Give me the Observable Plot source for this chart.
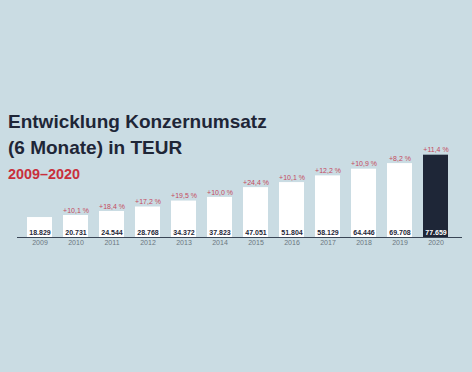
<!DOCTYPE html>
<html>
<head>
<meta charset="utf-8">
<script src="https://cdn.jsdelivr.net/npm/d3@7"></script>
<script src="https://cdn.jsdelivr.net/npm/@observablehq/plot@0.6"></script>
<style>
  html, body { margin: 0; padding: 0; background: #cadce3; }
  #wrap { position: relative; width: 472px; height: 372px; overflow: hidden; background: #cadce3; font-family: "Liberation Sans", Arial, sans-serif; }
  .t { position: absolute; left: 8px; font-weight: bold; white-space: nowrap; }
  #t1 { top: 109px; font-size: 19px; line-height: 26px; color: #1e2637; }
  #t2 { top: 135px; font-size: 19px; line-height: 26px; color: #1e2637; }
  #st { top: 166px; font-size: 14.4px; line-height: 16px; color: #c8303c; }
  #chart { position: absolute; left: 0; top: 0; }
</style>
</head>
<body>
<div id="wrap">
  <div id="chart"></div>
  <div class="t" id="t1">Entwicklung Konzernumsatz</div>
  <div class="t" id="t2">(6 Monate) in TEUR</div>
  <div class="t" id="st">2009–2020</div>
</div>
<script>
const years = ["2009","2010","2011","2012","2013","2014","2015","2016","2017","2018","2019","2020"];
const values = [18829, 20731, 24544, 28768, 34372, 37823, 47051, 51804, 58129, 64446, 69708, 77659];
const valueLabels = ["18.829","20.731","24.544","28.768","34.372","37.823","47.051","51.804","58.129","64.446","69.708","77.659"];
const growthLabels = ["","+10,1 %","+18,4 %","+17,2 %","+19,5 %","+10,0 %","+24,4 %","+10,1 %","+12,2 %","+10,9 %","+8,2 %","+11,4 %"];

const data = years.map((y, i) => ({year: y, value: values[i], label: valueLabels[i], growth: growthLabels[i], last: i === years.length - 1}));

const chart = Plot.plot({
  width: 472,
  height: 372,
  marginLeft: 15,
  marginRight: 12,
  marginTop: 131,
  marginBottom: 135,
  style: {background: "transparent", fontFamily: "Liberation Sans, Arial, sans-serif"},
  x: {domain: years, padding: 0.31, label: null},
  y: {domain: [0, 100000], axis: null},
  marks: [
    Plot.barY(data, {x: "year", y: "value", fill: d => d.last ? "#1e2637" : "#ffffff"}),
    Plot.ruleY([0], {stroke: "#3a4656", strokeWidth: 1.2, dx: 2}),
    Plot.axisX({tickSize: 0, tickPadding: 3, fontSize: 7, fill: "#6b7780", label: null}),
    Plot.text(data, {x: "year", y: 0, text: "label", dy: -5, fontSize: 7, fontWeight: "bold", fill: d => d.last ? "#ffffff" : "#1e2637"}),
    Plot.text(data, {x: "year", y: "value", text: "growth", dy: -5, fontSize: 7, fill: "#c44a60"})
  ]
});
document.getElementById("chart").appendChild(chart);
</script>
</body>
</html>
